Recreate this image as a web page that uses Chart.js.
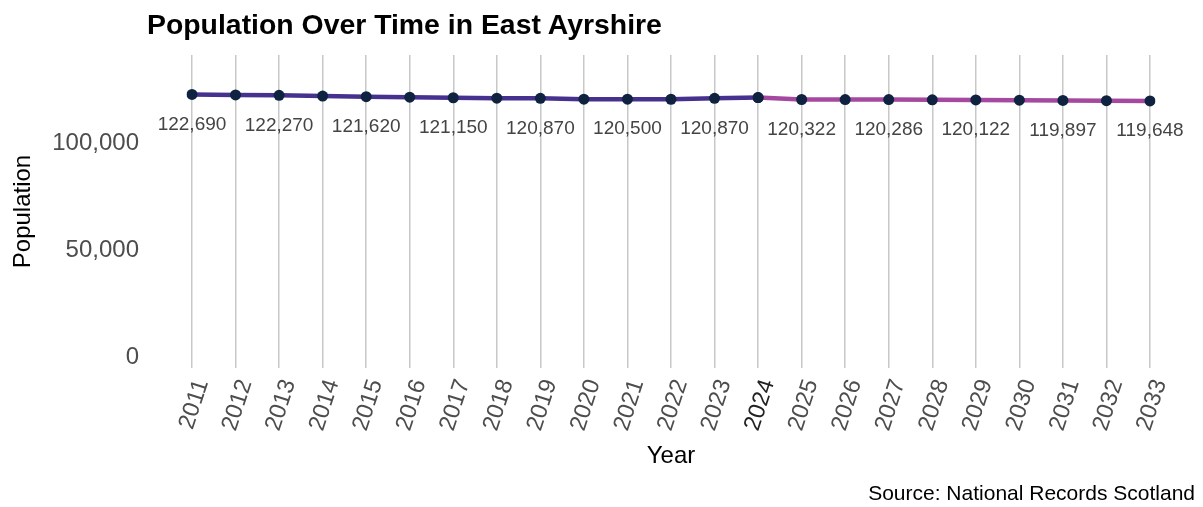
<!DOCTYPE html>
<html>
<head>
<meta charset="utf-8">
<title>Population Over Time in East Ayrshire</title>
<script src="https://cdn.jsdelivr.net/npm/chart.js@4"></script>
<style>
    body { margin: 0; background: #fff; font-family: "Liberation Sans", Arial, sans-serif; }
    #wrap { position: relative; width: 1203px; height: 507px; }
    #title { position: absolute; left: 147px; top: 8px; font-size: 28.4px; line-height: 32px; font-weight: bold; color: #000; margin: 0; }
    #source { position: absolute; right: 8px; top: 481px; font-size: 21px; line-height: 24px; color: #000; }
</style>
</head>
<body>
<div id="wrap">
    <canvas id="chart" width="1203" height="507"></canvas>
    <h1 id="title">Population Over Time in East Ayrshire</h1>
    <div id="source">Source: National Records Scotland</div>
</div>
<script>
const years = ['2011', '2012', '2013', '2014', '2015', '2016', '2017', '2018', '2019', '2020', '2021', '2022',
               '2023', '2024', '2025', '2026', '2027', '2028', '2029', '2030', '2031', '2032', '2033'];

// recorded estimates up to 2024
const recorded = [122690, 122480, 122270, 121930, 121620, 121390, 121150, 120920, 120870, 120450, 120500, 120440,
                  120870, 121250, null, null, null, null, null, null, null, null, null];

// projections from 2024 on
const projected = [null, null, null, null, null, null, null, null, null, null, null, null,
                   null, 121250, 120322, 120300, 120286, 120200, 120122, 120010, 119897, 119770, 119648];

const yTicks = [0, 50000, 100000];

const fmt = (v) => v.toLocaleString('en-US');

// value labels under every other point
const pointLabels = {
    id: 'pointLabels',
    afterDatasetsDraw(chart) {
        const ctx = chart.ctx;
        ctx.save();
        ctx.font = '19px "Liberation Sans", Arial, sans-serif';
        ctx.fillStyle = '#444';
        ctx.textAlign = 'center';
        ctx.textBaseline = 'middle';
        chart.data.datasets.forEach((ds, i) => {
            chart.getDatasetMeta(i).data.forEach((pt, j) => {
                if (ds.data[j] == null || j % 2) return;
                ctx.fillText(fmt(ds.data[j]), pt.x, pt.y + 30);
            });
        });
        ctx.restore();
    }
};

Chart.defaults.font.family = '"Liberation Sans", Arial, sans-serif';

new Chart(document.getElementById('chart'), {
    type: 'line',
    data: {
        labels: years,
        datasets: [
            {
                label: 'Recorded',
                data: recorded,
                borderColor: '#46318f',
                borderWidth: 4.5,
                pointRadius: 5.5,
                pointBackgroundColor: '#0f2341',
                pointBorderWidth: 0,
                tension: 0
            },
            {
                label: 'Projected',
                data: projected,
                borderColor: '#a4499f',
                borderWidth: 4.5,
                pointRadius: 5.5,
                pointBackgroundColor: '#0f2341',
                pointBorderWidth: 0,
                tension: 0
            }
        ]
    },
    options: {
        responsive: false,
        animation: false,
        layout: { padding: { left: 4, right: 53, top: 55, bottom: 28 } },
        plugins: {
            legend: { display: false },
            tooltip: { enabled: false }
        },
        scales: {
            x: {
                grid: { color: '#c8c8c8', lineWidth: 1.5, drawTicks: false },
                border: { display: false },
                ticks: {
                    autoSkip: false,
                    minRotation: 72,
                    maxRotation: 72,
                    padding: 8,
                    labelOffset: 10,
                    font: { size: 23.5 },
                    color: (c) => c.tick && c.tick.label === '2024' ? '#222' : '#4d4d4d'
                },
                title: { display: true, text: 'Year', color: '#000', font: { size: 24 }, padding: { top: 0, bottom: 8 } },
                afterFit: (scale) => { scale.height = 111; }
            },
            y: {
                min: -5140,
                max: 141120,
                grid: { display: false, drawTicks: false },
                border: { display: false },
                afterBuildTicks: (scale) => { scale.ticks = yTicks.map(v => ({ value: v })); },
                ticks: {
                    padding: 53,
                    font: { size: 24 },
                    color: '#4d4d4d',
                    callback: (v) => fmt(v)
                },
                title: { display: true, text: 'Population', color: '#000', font: { size: 24 }, padding: { top: 5, bottom: 0 } },
                afterFit: (scale) => {
                    scale.width = 188;
                    scale.paddingTop = 0;
                    scale.paddingBottom = 0;
                }
            }
        }
    },
    plugins: [pointLabels]
});
</script>
</body>
</html>
